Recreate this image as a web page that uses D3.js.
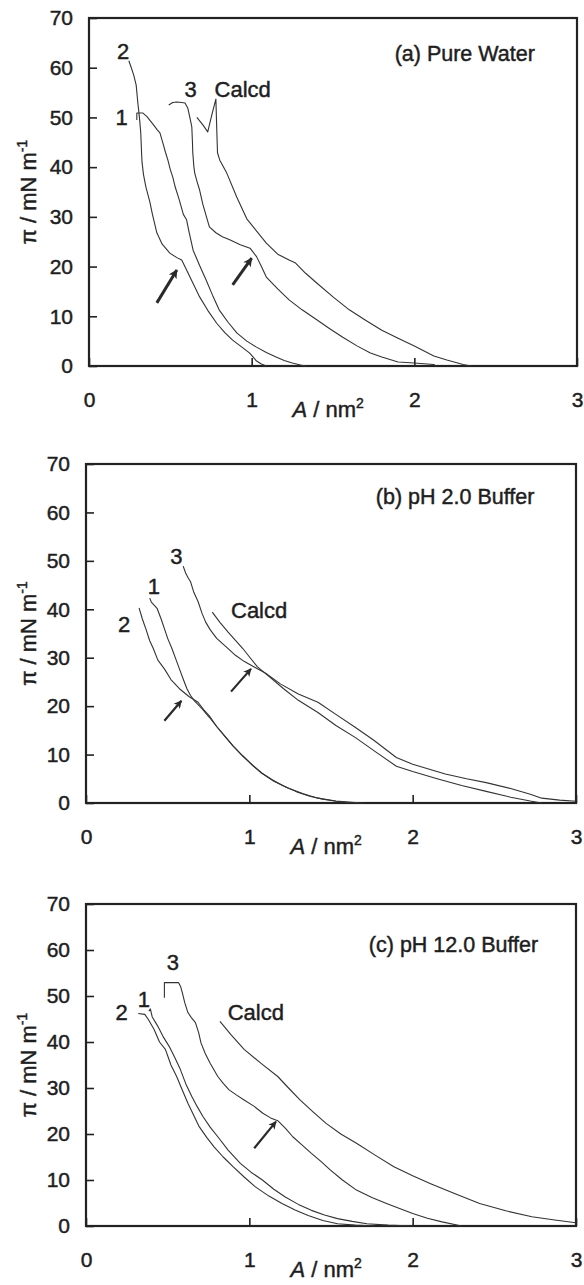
<!DOCTYPE html>
<html>
<head>
<meta charset="utf-8">
<script src="https://cdn.jsdelivr.net/npm/d3@7"></script>
<style>
  body { margin: 0; background: #fff; }
  svg text { font-family: "Liberation Sans", Arial, sans-serif; fill: #1e1e1e; stroke: #1e1e1e; stroke-width: 0.45px; }
</style>
</head>
<body>
<script>
// ---- panel (a) pure water : [A (nm2), pi (mN/m)] ----
var a1 = [[0.294,49.5],[0.294,50.9],[0.33,50.9],[0.355,50.2],[0.387,48.9],[0.42,47.5],[0.436,46.9],[0.454,44.9],[0.47,43],[0.485,41.4],[0.5,39.5],[0.515,38],[0.53,36],[0.555,33.4],[0.58,30.5],[0.6,29.4],[0.615,27],[0.64,23.3],[0.68,20.2],[0.72,17.3],[0.76,14.2],[0.8,11.3],[0.855,8.8],[0.91,6.6],[0.97,5.0],[1.03,3.8],[1.09,2.7],[1.15,1.8],[1.2,1.1],[1.25,0.6],[1.3,0.2],[1.33,0]];
var a2 = [[0.245,61.4],[0.26,60],[0.275,58.5],[0.29,56.5],[0.3,53],[0.31,50],[0.318,47],[0.323,43],[0.326,41],[0.335,38.5],[0.35,36],[0.374,33],[0.39,30.5],[0.417,26.8],[0.45,24.5],[0.497,22.7],[0.54,21.8],[0.57,21.3],[0.6,19.3],[0.64,16.6],[0.68,13.9],[0.73,11.2],[0.785,8.6],[0.835,6.7],[0.883,5.2],[0.94,3.8],[0.988,2.6],[1.03,1.0],[1.06,0.4],[1.09,0]];
var a3 = [[0.49,52.5],[0.515,53],[0.54,53.1],[0.57,53],[0.59,52.9],[0.607,51.9],[0.62,50],[0.632,48.1],[0.636,45],[0.638,42.9],[0.645,40],[0.65,38.8],[0.665,37],[0.68,35.4],[0.7,32.5],[0.74,28],[0.78,26.8],[0.82,26],[0.865,25.4],[0.93,24.4],[0.99,23.7],[1.03,22],[1.06,20],[1.09,17.9],[1.16,15.5],[1.23,13.3],[1.31,11.3],[1.4,9.3],[1.48,7.5],[1.56,5.8],[1.65,4.0],[1.73,2.6],[1.8,1.8],[1.9,0.8],[2.0,0.6],[2.12,0.3],[2.13,0]];
var aCalc = [[0.663,50],[0.7,48.5],[0.73,47.1],[0.755,50.5],[0.78,53.7],[0.785,48],[0.79,42.9],[0.804,41.4],[0.847,38.8],[0.908,34],[0.97,29.6],[0.99,28.8],[1.09,24.7],[1.16,22.5],[1.23,21.3],[1.27,20.7],[1.33,18.7],[1.4,16.7],[1.5,13.9],[1.6,11.3],[1.7,9.2],[1.8,7.2],[1.9,5.6],[2.0,4.0],[2.12,2.0],[2.2,1.2],[2.3,0.3],[2.35,0]];
var aArrows = [[0.417,12.7,0.54,19.3],[0.883,16.3,1.0,21.7]];
var aLabels = [["2",0.21,63.3],["1",0.2,50],["3",0.625,55.7],["Calcd",0.945,55.7]];

// ---- panel (b) pH 2.0 buffer ----
var b1 = [[0.39,42.3],[0.4,41.5],[0.435,40.2],[0.46,38],[0.48,36],[0.5,34],[0.526,31.9],[0.55,29.7],[0.572,27.7],[0.595,25.6],[0.618,23.6],[0.64,22.2],[0.664,21.1],[0.71,19.5],[0.755,17.7],[0.8,15.8],[0.847,13.9],[0.9,11.8],[0.96,9.7],[1.02,7.8],[1.075,6.2],[1.15,4.5],[1.236,3.1],[1.33,1.9],[1.42,1.0],[1.53,0.4],[1.65,0.1],[1.7,0]];
var b2 = [[0.325,40.3],[0.345,38],[0.366,36],[0.39,33.5],[0.412,31.9],[0.44,29.5],[0.48,27.7],[0.52,25.5],[0.572,23.6],[0.63,22],[0.686,20.8],[0.72,19.3],[0.755,18],[0.8,15.8],[0.847,13.9],[0.9,11.8],[0.96,9.7],[1.02,7.8],[1.075,6.2],[1.14,4.8],[1.21,3.5],[1.29,2.3],[1.37,1.4],[1.45,0.8],[1.53,0.35],[1.6,0.1],[1.67,0]];
var b3 = [[0.595,48.9],[0.61,47.5],[0.625,46.5],[0.64,45.7],[0.66,43.5],[0.686,41.6],[0.71,39.2],[0.732,37.4],[0.76,35.8],[0.8,34],[0.86,32.2],[0.915,30.5],[0.97,29.2],[1.03,28.1],[1.1,26.8],[1.19,24.6],[1.3,22.5],[1.42,20.8],[1.53,18.3],[1.65,15.6],[1.76,13],[1.9,9.4],[2.0,8.0],[2.2,6.0],[2.33,5.0],[2.45,4.2],[2.6,3.0],[2.72,1.8],[2.79,1.0],[2.9,0.6],[3.0,0.35]];
var bCalc = [[0.773,39.4],[0.82,37.3],[0.87,35.3],[0.915,33.6],[0.96,31.9],[1.0,30.2],[1.05,28.1],[1.1,26.7],[1.21,23.6],[1.3,21.2],[1.42,18.7],[1.53,16.0],[1.65,13.5],[1.78,10.4],[1.9,7.6],[2.0,6.5],[2.15,5.0],[2.3,3.6],[2.45,2.4],[2.6,1.2],[2.72,0.4],[2.79,0]];
var bArrows = [[0.48,17,0.584,21.1],[0.888,23,1.01,27.7]];
var bLabels = [["3",0.554,50.9],["1",0.416,44.7],["2",0.233,37],["Calcd",1.06,39.8]];

// ---- panel (c) pH 12.0 buffer ----
var c1 = [[0.385,46.7],[0.394,47.2],[0.405,45.5],[0.44,43.4],[0.475,41],[0.51,39],[0.545,36.5],[0.578,34],[0.61,31],[0.647,28.2],[0.68,26],[0.716,23.8],[0.76,21.5],[0.807,19.4],[0.87,16.5],[0.945,13.6],[1.01,11.7],[1.08,10],[1.15,8],[1.22,6.3],[1.3,4.7],[1.38,3.4],[1.46,2.4],[1.54,1.6],[1.63,1.0],[1.72,0.5],[1.85,0.2],[2.0,0]];
var c2 = [[0.32,46.2],[0.36,46],[0.38,45],[0.417,42.7],[0.45,40],[0.486,38.4],[0.5,37],[0.52,35],[0.555,32.5],[0.59,29.5],[0.624,26.7],[0.66,24],[0.693,21.6],[0.74,19.2],[0.784,17.2],[0.84,15],[0.9,12.9],[0.97,10.6],[1.037,8.5],[1.12,6.5],[1.2,4.9],[1.28,3.5],[1.36,2.3],[1.45,1.2],[1.54,0.5],[1.65,0.2],[1.77,0]];
var c3 = [[0.48,49.6],[0.48,52.9],[0.567,52.9],[0.58,52],[0.59,50.7],[0.605,48.5],[0.624,46.4],[0.645,45.3],[0.67,44.2],[0.69,42],[0.704,39.8],[0.73,37.5],[0.76,35.4],[0.807,32.5],[0.84,31],[0.876,29.6],[0.92,28.5],[0.968,27.4],[1.03,26],[1.083,24.5],[1.13,23.5],[1.174,22.9],[1.22,21.3],[1.266,19.4],[1.32,17.7],[1.38,15.8],[1.44,14],[1.495,12.2],[1.57,10],[1.656,7.8],[1.75,6.2],[1.84,4.9],[1.92,3.8],[2.0,2.7],[2.09,1.7],[2.18,0.9],[2.3,0]];
var cCalc = [[0.82,44.5],[0.89,41.5],[0.968,38.4],[1.07,35.4],[1.174,32.5],[1.24,30],[1.31,27.4],[1.39,24.8],[1.47,22.3],[1.56,20],[1.656,18],[1.77,15.4],[1.885,12.9],[2.0,10.9],[2.11,9.2],[2.26,7.0],[2.41,4.9],[2.57,3.3],[2.73,2.0],[2.87,1.3],[3.0,0.7]];
var cArrows = [[1.03,16.9,1.163,22.7]];
var cLabels = [["3",0.532,57.3],["1",0.355,49.3],["2",0.218,46.5],["Calcd",1.04,46.5]];

var xTicks = [0, 1, 2, 3];
var yTicks = [0, 10, 20, 30, 40, 50, 60, 70];
var titles = ["(a) Pure Water", "(b) pH 2.0 Buffer", "(c) pH 12.0 Buffer"];
var titlePos = [[2.31, 63], [2.26, 63.4], [2.25, 61.3]];

var W = 584, H = 1285;
var svg = d3.select("body").append("svg").attr("width", W).attr("height", H);

// arrowheads
var defs = svg.append("defs");
[["headThick", 13, 9], ["headThin", 11, 8]].forEach(function(m){
  defs.append("marker").attr("id", m[0])
    .attr("markerUnits", "userSpaceOnUse")
    .attr("viewBox", "0 0 10 10").attr("refX", 9).attr("refY", 5)
    .attr("markerWidth", m[1]).attr("markerHeight", m[2])
    .attr("orient", "auto")
    .append("path").attr("d", "M0,0 L10,5 L0,10 L2.5,5 Z").attr("fill", "#2a2a2a");
});

var panels = [
  {left: 89, right: 577, top: 18, bottom: 366, curves: [a1, a2, a3, aCalc], arrows: aArrows, labels: aLabels, head: "headThick", aw: 3},
  {left: 86, right: 576, top: 464, bottom: 803, curves: [b1, b2, b3, bCalc], arrows: bArrows, labels: bLabels, head: "headThin", aw: 2.2},
  {left: 86, right: 576, top: 904, bottom: 1226, curves: [c1, c2, c3, cCalc], arrows: cArrows, labels: cLabels, head: "headThin", aw: 2.2}
];

panels.forEach(function(p, i){
  var x = d3.scaleLinear().domain([0, 3]).range([p.left, p.right]);
  var y = d3.scaleLinear().domain([0, 70]).range([p.bottom, p.top]);
  var g = svg.append("g");

  // y axis (ticks inside)
  var ya = g.append("g").attr("transform", "translate(" + p.left + ",0)")
    .call(d3.axisLeft(y).tickValues(yTicks).tickSize(-8).tickPadding(16).tickFormat(d3.format("d")));
  ya.select(".domain").remove();
  ya.selectAll("line").attr("stroke", "#222").attr("stroke-width", 1.6);
  ya.selectAll("text").attr("font-size", 21).attr("fill", "#1e1e1e")
    .style("font-family", "'Liberation Sans', Arial, sans-serif");

  // x axis
  var xa = g.append("g").attr("transform", "translate(0," + p.bottom + ")")
    .call(d3.axisBottom(x).tickValues(xTicks).tickSize(-8).tickFormat(d3.format("d")));
  xa.select(".domain").remove();
  xa.selectAll("line").attr("stroke", "#222").attr("stroke-width", 1.6);
  xa.selectAll("text").attr("font-size", 21).attr("y", 41).attr("dy", null).attr("fill", "#1e1e1e")
    .style("font-family", "'Liberation Sans', Arial, sans-serif");

  // frame
  g.append("rect").attr("x", p.left).attr("y", p.top)
    .attr("width", p.right - p.left).attr("height", p.bottom - p.top)
    .attr("fill", "none").attr("stroke", "#222").attr("stroke-width", 2.2);

  // curves
  var line = d3.line().x(function(d){ return x(d[0]); }).y(function(d){ return y(d[1]); });
  g.selectAll("path.curve").data(p.curves).enter().append("path")
    .attr("class", "curve").attr("d", line)
    .attr("fill", "none").attr("stroke", "#333").attr("stroke-width", 1.1)
    .attr("stroke-linejoin", "round");

  // arrows
  g.selectAll("line.arrow").data(p.arrows).enter().append("line")
    .attr("class", "arrow")
    .attr("x1", function(d){ return x(d[0]); }).attr("y1", function(d){ return y(d[1]); })
    .attr("x2", function(d){ return x(d[2]); }).attr("y2", function(d){ return y(d[3]); })
    .attr("stroke", "#2a2a2a").attr("stroke-width", p.aw)
    .attr("marker-end", "url(#" + p.head + ")");

  // curve labels
  g.selectAll("text.lab").data(p.labels).enter().append("text")
    .attr("class", "lab")
    .attr("x", function(d){ return x(d[1]); }).attr("y", function(d){ return y(d[2]); })
    .attr("dy", "0.36em").attr("text-anchor", "middle").attr("font-size", 22)
    .text(function(d){ return d[0]; });

  // panel title
  g.append("text").attr("x", x(titlePos[i][0])).attr("y", y(titlePos[i][1]))
    .attr("dy", "0.36em").attr("text-anchor", "middle").attr("font-size", 21.5)
    .text(titles[i]);

  // y title
  var yt = g.append("text")
    .attr("transform", "translate(36," + y(35) + ") rotate(-90)")
    .attr("text-anchor", "middle").attr("font-size", 22);
  yt.append("tspan").text("\u03c0 / mN m");
  yt.append("tspan").attr("font-size", 14).attr("dy", -9).text("-1");

  // x title
  var xt = g.append("text").attr("x", x(1.47)).attr("y", p.bottom + 51)
    .attr("text-anchor", "middle").attr("font-size", 22);
  xt.append("tspan").attr("font-style", "italic").text("A");
  xt.append("tspan").text(" / nm");
  xt.append("tspan").attr("font-size", 14).attr("dy", -9).text("2");
});
</script>
</body>
</html>
